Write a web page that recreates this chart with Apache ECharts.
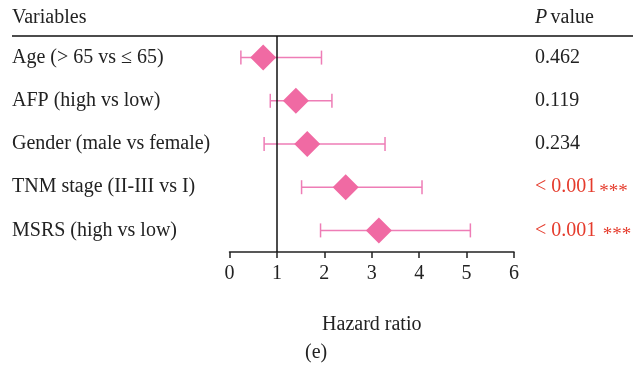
<!DOCTYPE html>
<html>
<head>
<meta charset="utf-8">
<script src="https://cdn.jsdelivr.net/npm/echarts@6/dist/echarts.min.js"></script>
<style>
  html, body { margin: 0; padding: 0; background: #fff; }
  #chart { width: 633px; height: 377px; }
</style>
</head>
<body>
<div id="chart"></div>
<script>
// Multivariate Cox regression: hazard ratios with 95% confidence intervals
const variables = [
  'Age (> 65 vs \u2264 65)',
  'AFP (high vs low)',
  'Gender (male vs female)',
  'TNM stage (II-III vs I)',
  'MSRS (high vs low)'
];
const hazardRatio = [0.71, 1.40, 1.64, 2.45, 3.15];
const ciLower = [0.24, 0.86, 0.73, 1.52, 1.92];
const ciUpper = [1.94, 2.16, 3.28, 4.06, 5.08];
const pValues = ['0.462', '0.119', '0.234', '< 0.001', '< 0.001'];
const significance = ['', '', '', '***', '***'];
const xTicks = [0, 1, 2, 3, 4, 5, 6];

const FONT = '"Liberation Serif", "DejaVu Serif", serif';
const FS = 20;
const PINK = '#F06AA3';
const WHISKER = '#EE7DB6';
const RED = '#E53B2C';
const INK = '#222';

const chart = echarts.init(document.getElementById('chart'));

const errorBarData = variables.map((v, i) => [i, ciLower[i], ciUpper[i]]);
const pointData = variables.map((v, i) => [hazardRatio[i], i]);

chart.setOption({
  animation: false,
  grid: { left: 229.5, right: 119, top: 36, bottom: 125, outerBoundsMode: 'none' },
  xAxis: {
    type: 'value',
    min: xTicks[0],
    max: xTicks[xTicks.length - 1],
    interval: 1,
    name: 'Hazard ratio',
    nameLocation: 'middle',
    nameGap: 63,
    nameTextStyle: { fontFamily: FONT, fontSize: FS, color: INK },
    axisLine: { show: true, lineStyle: { color: INK, width: 1.5 } },
    axisTick: { show: true, length: 6, lineStyle: { color: INK, width: 1.5 } },
    axisLabel: { fontFamily: FONT, fontSize: FS, color: INK, margin: 12 },
    splitLine: { show: false }
  },
  yAxis: [
    {
      type: 'category',
      data: variables,
      inverse: true,
      axisLine: { show: false },
      axisTick: { show: false },
      axisLabel: {
        align: 'left',
        margin: 217.5,
        fontFamily: FONT,
        fontSize: FS,
        color: INK
      }
    },
    {
      type: 'category',
      data: variables,
      inverse: true,
      position: 'right',
      axisLine: { show: false },
      axisTick: { show: false },
      axisLabel: {
        align: 'left',
        margin: 21,
        formatter: function (value, idx) {
          const sig = significance[idx];
          if (!sig) return '{n|' + pValues[idx] + '}';
          return '{r|' + pValues[idx] + '}' + (idx === 4 ? '{sp| }' : '') + '{s|' + sig + '}';
        },
        rich: {
          n: { fontFamily: FONT, fontSize: FS, color: INK },
          r: { fontFamily: FONT, fontSize: FS, color: RED },
          sp: { fontFamily: FONT, fontSize: 14, color: RED },
          s: { fontFamily: FONT, fontSize: 19, color: RED, verticalAlign: 'bottom', padding: [10, 0, 0, 3] }
        }
      }
    }
  ],
  series: [
    {
      type: 'custom',
      name: 'CI',
      renderItem: function (params, api) {
        const y = api.value(0);
        const lo = api.coord([api.value(1), y]);
        const hi = api.coord([api.value(2), y]);
        const cap = 7;
        const style = { stroke: WHISKER, lineWidth: 1.5 };
        return {
          type: 'group',
          children: [
            { type: 'line', shape: { x1: lo[0], y1: lo[1], x2: hi[0], y2: hi[1] }, style: style },
            { type: 'line', shape: { x1: lo[0], y1: lo[1] - cap, x2: lo[0], y2: lo[1] + cap }, style: style },
            { type: 'line', shape: { x1: hi[0], y1: hi[1] - cap, x2: hi[0], y2: hi[1] + cap }, style: style }
          ]
        };
      },
      encode: { y: 0, x: [1, 2] },
      data: errorBarData,
      z: 2
    },
    {
      type: 'scatter',
      name: 'HR',
      symbol: 'diamond',
      symbolSize: [26, 26],
      itemStyle: { color: PINK, opacity: 1 },
      data: pointData,
      z: 4,
      markLine: {
        silent: true,
        symbol: 'none',
        label: { show: false },
        lineStyle: { color: '#111', width: 1.5, type: 'solid' },
        data: [{ xAxis: 1 }],
        z: 3
      }
    }
  ],
  graphic: [
    {
      type: 'line',
      shape: { x1: 12, y1: 36, x2: 633, y2: 36 },
      style: { stroke: '#111', lineWidth: 1.5 }
    },
    {
      type: 'text',
      left: 12,
      top: 8,
      style: { text: 'Variables', font: FS + 'px ' + FONT, fill: INK }
    },
    {
      type: 'text',
      left: 535,
      top: 8,
      style: {
        text: '{i|P} {n|value}',
        rich: {
          i: { fontFamily: FONT, fontSize: FS, fontStyle: 'italic', fill: INK },
          n: { fontFamily: FONT, fontSize: FS, fill: INK }
        }
      }
    },
    {
      type: 'text',
      left: 305,
      top: 343,
      style: { text: '(e)', font: FS + 'px ' + FONT, fill: INK }
    }
  ]
});
</script>
</body>
</html>
